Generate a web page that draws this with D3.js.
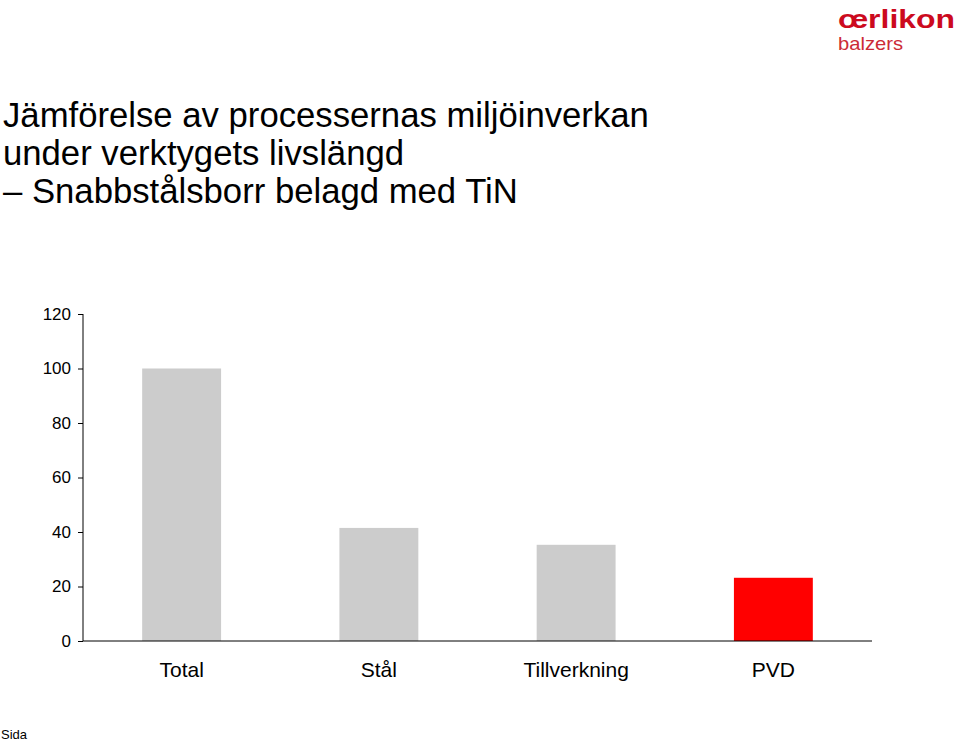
<!DOCTYPE html>
<html><head><meta charset="utf-8">
<script src="https://cdn.jsdelivr.net/npm/d3@7"></script>
<style>body{margin:0;background:#fff;}svg{display:block;font-family:"Liberation Sans",Arial,sans-serif;}</style>
</head><body><svg id="c" width="959" height="742"></svg>
<script>
const categories = ["Total", "Stål", "Tillverkning", "PVD"];
const values = [100, 41.5, 35.3, 23.2];
const barColors = ["#cccccc", "#cccccc", "#cccccc", "#ff0000"];
const yTicks = [0, 20, 40, 60, 80, 100, 120];
const titleLines = ["Jämförelse av processernas miljöinverkan", "under verktygets livslängd", "– Snabbstålsborr belagd med TiN"];

const svg = d3.select("#c");
const x = d3.scaleBand().domain(categories).range([83, 872]).paddingInner(0.6).paddingOuter(0.3);
const y = d3.scaleLinear().domain([0, 120]).range([641, 314]);

svg.selectAll("rect.bar").data(values).join("rect").attr("class","bar")
  .attr("x",(d,i)=>x(categories[i])).attr("width",x.bandwidth())
  .attr("y",d=>y(d)).attr("height",d=>y(0)-y(d)).attr("fill",(d,i)=>barColors[i]);

const ya = svg.append("g").attr("transform","translate(83,0)")
  .call(d3.axisLeft(y).tickValues(yTicks).tickSize(5).tickPadding(7).tickFormat(d3.format("d")));
ya.select(".domain").attr("d","M0,641V314").attr("stroke","#000");
ya.selectAll("text").attr("font-size",17).attr("font-family","Liberation Sans, Arial, sans-serif").attr("fill","#000");

const xa = svg.append("g").attr("transform","translate(0,641)")
  .call(d3.axisBottom(x).tickSize(0).tickPadding(21));
xa.select(".domain").attr("d","M83,0H872").attr("stroke","#000");
xa.selectAll("text").attr("font-size",21).attr("font-family","Liberation Sans, Arial, sans-serif").attr("fill","#000").attr("dy","0.71em");

svg.append("g").selectAll("text").data(titleLines).join("text")
  .attr("x",3).attr("y",(d,i)=>127+i*37.8)
  .attr("font-size",34.7).attr("fill","#000").text(d=>d);

// logo
svg.append("text").attr("x",838).attr("y",27.5)
  .attr("font-size",26).attr("font-weight","bold").attr("fill","#cc0a1e")
  .attr("textLength",117).attr("lengthAdjust","spacingAndGlyphs").text("œrlikon");
svg.append("text").attr("x",838).attr("y",50).attr("font-size",19).attr("fill","#cc2b36")
  .attr("textLength",65).attr("lengthAdjust","spacingAndGlyphs").text("balzers");

svg.append("text").attr("x",1).attr("y",739).attr("font-size",13).attr("fill","#000").text("Sida");
</script></body></html>
